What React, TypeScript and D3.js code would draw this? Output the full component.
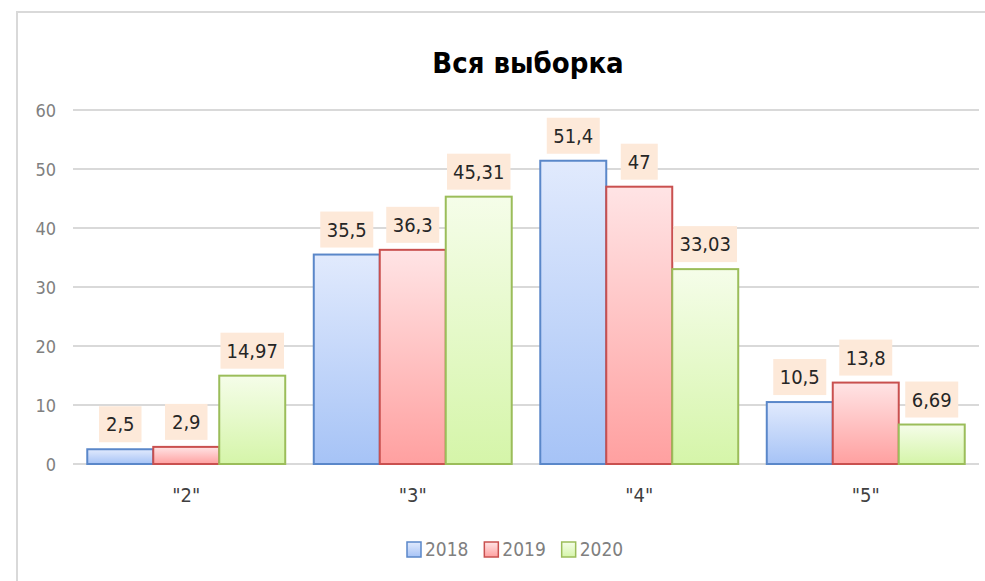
import React from "react";
import * as d3 from "d3";

const categories = ['"2"', '"3"', '"4"', '"5"'];
const seriesNames = ["2018", "2019", "2020"];
const values2018 = [2.5, 35.5, 51.4, 10.5];
const values2019 = [2.9, 36.3, 47, 13.8];
const values2020 = [14.97, 45.31, 33.03, 6.69];
const yTicks = [0, 10, 20, 30, 40, 50, 60];
const title = "Вся выборка";

const seriesValues = [values2018, values2019, values2020];
const colors = [
  { top: "#e1eafd", bottom: "#a6c3f6", stroke: "#5a87c9" },
  { top: "#ffe4e5", bottom: "#ffa0a0", stroke: "#c9504f" },
  { top: "#f5fde9", bottom: "#d5f5a9", stroke: "#9bbd5a" },
];

const FONT = "'Liberation Sans Narrow', 'DejaVu Sans Condensed', 'Open Sans', sans-serif";

function fmt(v: number) {
  return String(v).replace(".", ",");
}

export default function App() {
  const W = 985, H = 581;
  const left = 73, right = 979, top = 110, bottom = 464;
  const y = d3.scaleLinear().domain([0, 60]).range([bottom, top]);
  const x0 = d3.scaleBand().domain(categories).range([left, right]).paddingInner(0.126).paddingOuter(0.063);
  const x1 = d3.scaleBand().domain(seriesNames).range([0, x0.bandwidth()]).padding(0);
  const legendX = d3.scaleBand().domain(seriesNames).range([407, 562 + 77]);

  return (
    <svg width={W} height={H} style={{ position: "absolute", left: 0, top: 0, fontFamily: FONT }}>
      <defs>
        {colors.map((c, i) => (
          <linearGradient key={i} id={`g${i}`} x1="0" y1="0" x2="0" y2="1">
            <stop offset="0" stopColor={c.top} />
            <stop offset="1" stopColor={c.bottom} />
          </linearGradient>
        ))}
      </defs>
      <rect x={0} y={0} width={W} height={H} fill="#fff" />
      <line x1={16} x2={W} y1={12} y2={12} stroke="#d9d9d9" strokeWidth={2} />
      <line x1={17} x2={17} y1={11} y2={H} stroke="#d9d9d9" strokeWidth={2} />
      <text x={528} y={73} textAnchor="middle" fontSize={29} fontWeight="bold" fill="#000">{title}</text>
      {yTicks.map((t) => (
        <g key={t}>
          <line x1={left} x2={right} y1={y(t)} y2={y(t)} stroke="#d9d9d9" strokeWidth={2} />
          <text x={56} y={y(t) + 6.5} textAnchor="end" fontSize={18} fill="#808080">{t}</text>
        </g>
      ))}
      {categories.map((c, ci) => (
        <g key={c} transform={`translate(${x0(c)},0)`}>
          {seriesNames.map((s, si) => {
            const v = seriesValues[si][ci];
            const bx = x1(s)!;
            const bw = x1.bandwidth();
            return (
              <rect key={s} x={bx} y={y(v)} width={bw} height={y(0) - y(v)} fill={`url(#g${si})`} stroke={colors[si].stroke} strokeWidth={2} />
            );
          })}
        </g>
      ))}
      {categories.map((c, ci) => (
        <g key={c + "l"} transform={`translate(${x0(c)},0)`}>
          {seriesNames.map((s, si) => {
            const v = seriesValues[si][ci];
            const label = fmt(v);
            const cx = x1(s)! + x1.bandwidth() / 2;
            const tw = label.length * 10.5 - (label.includes(",") ? 5 : 0);
            const bw = tw + 16;
            const bh = 36;
            const by = y(v) - 7 - bh;
            return (
              <g key={s}>
                <rect x={cx - bw / 2} y={by} width={bw} height={bh} fill="#fde9d9" />
                <text x={cx} y={by + 25} textAnchor="middle" fontSize={20} fill="#262626">{label}</text>
              </g>
            );
          })}
        </g>
      ))}
      {categories.map((c) => (
        <text key={c + "c"} x={x0(c)! + x0.bandwidth() / 2} y={502} textAnchor="middle" fontSize={20} fill="#404040">{c}</text>
      ))}
      {seriesNames.map((s, si) => {
        const lx = legendX(s)!;
        return (
          <g key={s + "lg"}>
            <rect x={lx} y={542} width={14} height={15} fill={`url(#g${si})`} stroke={colors[si].stroke} strokeWidth={1.5} />
            <text x={lx + 18} y={556} fontSize={19} fill="#808080">{s}</text>
          </g>
        );
      })}
    </svg>
  );
}
